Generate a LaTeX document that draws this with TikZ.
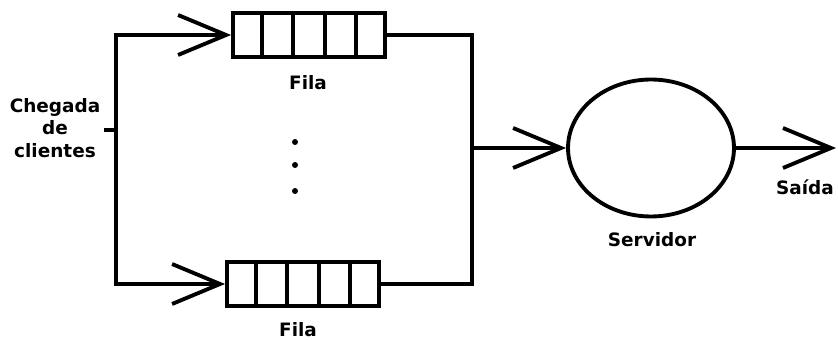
\documentclass[tikz,border=0pt]{standalone}
\usepackage{fontspec}
\setmainfont{DejaVu Sans}
\usetikzlibrary{arrows.meta,positioning,calc,backgrounds}
\usetikzlibrary{shapes,shapes.geometric}
\pgfdeclarelayer{edgelayer}
\pgfdeclarelayer{nodelayer}
\pgfsetlayers{background,edgelayer,nodelayer,main}
\tikzstyle{none}=[inner sep=0mm]
\tikzstyle{every path}=[line width=2.2pt]
\tikzstyle{fila}=[draw,fill=white,inner sep=0pt,minimum width=3.04cm,minimum height=0.88cm]
\tikzstyle{servidor}=[draw,fill=white,shape=ellipse,inner sep=0pt,minimum width=3.32cm,minimum height=2.74cm]
\tikzstyle{ponto}=[fill=black,shape=circle,inner sep=0pt,minimum size=0.12cm]
\tikzstyle{rotulo}=[inner sep=0pt,align=center,font=\bfseries\fontsize{10.5}{12.8}\selectfont]
\tikzstyle{seta}=[-{Straight Barb[length=0.96cm,width=0.8cm]}]

\begin{document}
\begin{tikzpicture}[x=0.02cm,y=-0.02cm]
	\useasboundingbox (0,0) rectangle (838,340);
	\begin{pgfonlayer}{nodelayer}
		\node [style=fila] (f1) at (309, 35) {};
		\node [style=fila] (f2) at (303, 284) {};
		\node [style=servidor] (srv) at (651, 148) {};
		\foreach \i/\y in {1/142,2/165,3/191}
			\node [style=ponto] (p\i) at (295, \y) {};
		\node [style=rotulo] (lf1) at (308, 83) {Fila};
		\node [style=rotulo] (lf2) at (298, 330) {Fila};
		\node [style=rotulo] (lch) at (55, 128) {Chegada\\de\\clientes};
		\node [style=rotulo] (lsrv) at (652, 240) {Servidor};
		\node [style=rotulo] (lsai) at (805, 187) {Saída};
		\coordinate (e1) at (116, 35);
		\coordinate (e2) at (116, 284);
		\coordinate (ch) at (104, 130);
		\coordinate (s1) at (472, 35);
		\coordinate (s2) at (472, 284);
		\coordinate (m) at (472, 148);
		\coordinate (out) at (836, 148);
	\end{pgfonlayer}
	\begin{pgfonlayer}{edgelayer}
		\draw (ch) to (ch -| e1);
		\draw[style=seta] (ch -| e1) to (e1) to (f1.west);
		\draw[style=seta] (ch -| e1) to (e2) to (f2.west);
		\draw (f1.east) to (s1) to (s2) to (f2.east);
		\draw[style=seta] (m) to (srv.west);
		\draw[style=seta] (srv.east) to (out);
	\end{pgfonlayer}
	% cells of each queue
	\foreach \f in {f1,f2}
		\foreach \i in {1,...,4}
			\draw ($(\f.north west)!\i/5!(\f.north east)$) to ($(\f.south west)!\i/5!(\f.south east)$);
\end{tikzpicture}
\end{document}
